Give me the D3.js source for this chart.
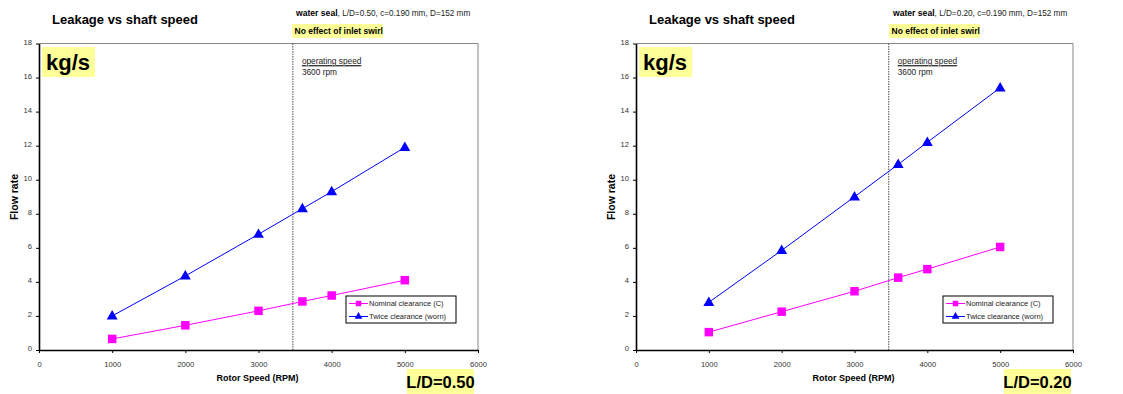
<!DOCTYPE html>
<html>
<head>
<meta charset="utf-8">
<script src="https://d3js.org/d3.v7.min.js"></script>
<style>
  body { margin: 0; background: #fff; }
  svg text { font-family: Arial, "Liberation Sans", sans-serif; }
</style>
</head>
<body>
<div id="chart"></div>
<script>
// data
var speeds = [1000, 2000, 3000, 3600, 4000, 5000];
var nominalLD050 = [0.65, 1.45, 2.3, 2.85, 3.2, 4.1];
var twiceLD050 = [2.0, 4.35, 6.8, 8.3, 9.3, 11.9];
var nominalLD020 = [1.05, 2.25, 3.45, 4.25, 4.75, 6.05];
var twiceLD020 = [2.8, 5.85, 9.0, 10.9, 12.2, 15.4];
var xTicks = [0, 1000, 2000, 3000, 4000, 5000, 6000];
var yTicks = [0, 2, 4, 6, 8, 10, 12, 14, 16, 18];
var operatingLine = 3470;
var seriesNames = ["Nominal clearance (C)", "Twice clearance (worn)"];
var panelLabels = ["L/D=0.50", "L/D=0.20"];
var subtitles = [", L/D=0.50, c=0.190 mm, D=152 mm", ", L/D=0.20, c=0.190 mm, D=152 mm"];

var width = 1123, height = 394;

var svg = d3.select("#chart").append("svg")
    .attr("width", width)
    .attr("height", height);

var panels = [
  {ox: 0, nominal: nominalLD050, twice: twiceLD050, label: panelLabels[0], sub: subtitles[0], w: 439},
  {ox: 597, nominal: nominalLD020, twice: twiceLD020, label: panelLabels[1], sub: subtitles[1], w: 437}
];

panels.forEach(drawPanel);

function drawPanel(p) {
  var g = svg.append("g").attr("transform", "translate(" + p.ox + ",0)");
  var left = 39, top = 43.5, bottom = 350;

  var x = d3.scaleLinear().domain([0, 6000]).range([left, left + p.w]);
  var y = d3.scaleLinear().domain([0, 18]).range([bottom, top]);

  // plot frame (top and right grey)
  g.append("path")
    .attr("d", "M" + left + "," + top + "H" + x(6000) + "V" + bottom)
    .attr("fill", "none")
    .attr("stroke", "#888")
    .attr("stroke-width", 1);

  // axes
  var xAxis = g.append("g")
    .attr("transform", "translate(0," + bottom + ")")
    .call(d3.axisBottom(x).tickValues(xTicks).tickFormat(d3.format("d")).tickSize(3).tickSizeOuter(0));
  var yAxis = g.append("g")
    .attr("transform", "translate(" + left + ",0)")
    .call(d3.axisLeft(y).tickValues(yTicks).tickFormat(d3.format("d")).tickSize(3).tickSizeOuter(0));

  [xAxis, yAxis].forEach(function(a) {
    a.select(".domain").attr("stroke", "#000").attr("stroke-width", 1.6);
    a.selectAll(".tick line").attr("stroke", "#000");
    a.selectAll(".tick text")
      .attr("font-size", "7.6px")
      .attr("fill", "#333")
      .attr("font-family", "Arial, 'Liberation Sans', sans-serif");
  });
  xAxis.selectAll(".tick text").attr("dy", "1.4em");
  yAxis.selectAll(".tick text").attr("dx", "-1px").attr("dy", "0.1em");

  // operating speed line
  g.append("line")
    .attr("x1", x(operatingLine)).attr("x2", x(operatingLine))
    .attr("y1", top).attr("y2", bottom)
    .attr("stroke", "#222")
    .attr("stroke-width", 0.8)
    .attr("stroke-dasharray", "1.5,1");

  g.append("text")
    .attr("x", x(operatingLine) + 9).attr("y", 64)
    .attr("font-size", "8.3px").attr("fill", "#222")
    .attr("text-decoration", "underline")
    .text("operating speed");
  g.append("line")
    .attr("x1", x(operatingLine) + 9).attr("x2", x(operatingLine) + 68)
    .attr("y1", 66).attr("y2", 66)
    .attr("stroke", "#222").attr("stroke-width", 0.7);
  g.append("text")
    .attr("x", x(operatingLine) + 9).attr("y", 75)
    .attr("font-size", "8.3px").attr("fill", "#222")
    .text("3600 rpm");

  // lines
  var line = d3.line()
    .x(function(d, i) { return x(speeds[i]); })
    .y(function(d) { return y(d); });

  g.append("path").datum(p.nominal)
    .attr("d", line).attr("fill", "none")
    .attr("stroke", "#ff00ff").attr("stroke-width", 1);
  g.append("path").datum(p.twice)
    .attr("d", line).attr("fill", "none")
    .attr("stroke", "#0000ff").attr("stroke-width", 1);

  var square = d3.symbol().type(d3.symbolSquare).size(72);
  var tri = d3.symbol().type(d3.symbolTriangle).size(52);

  g.selectAll(".sq").data(p.nominal).enter().append("path")
    .attr("class", "sq")
    .attr("d", square)
    .attr("transform", function(d, i) { return "translate(" + x(speeds[i]) + "," + y(d) + ")"; })
    .attr("fill", "#ff00ff");
  g.selectAll(".tri").data(p.twice).enter().append("path")
    .attr("class", "tri")
    .attr("d", tri)
    .attr("transform", function(d, i) { return "translate(" + x(speeds[i]) + "," + (y(d) + 0.5) + ")"; })
    .attr("fill", "#0000ff");

  // legend
  var lx = left + 307, ly = 296;
  g.append("rect")
    .attr("x", lx).attr("y", ly).attr("width", 110).attr("height", 27)
    .attr("fill", "#fff").attr("stroke", "#000").attr("stroke-width", 1);
  var colors = ["#ff00ff", "#0000ff"];
  var syms = [d3.symbol().type(d3.symbolSquare).size(30), d3.symbol().type(d3.symbolTriangle).size(26)];
  seriesNames.forEach(function(name, i) {
    var yy = ly + 7.5 + i * 13;
    g.append("line")
      .attr("x1", lx + 3).attr("x2", lx + 22)
      .attr("y1", yy).attr("y2", yy)
      .attr("stroke", colors[i]).attr("stroke-width", 1);
    g.append("path").attr("d", syms[i])
      .attr("transform", "translate(" + (lx + 12.5) + "," + yy + ")")
      .attr("fill", colors[i]);
    g.append("text")
      .attr("x", lx + 23).attr("y", yy + 2.8)
      .attr("font-size", "7.5px").attr("fill", "#222")
      .text(name);
  });

  // title
  g.append("text")
    .attr("x", 52).attr("y", 24)
    .attr("font-size", "13px").attr("font-weight", "bold")
    .text("Leakage vs shaft speed");

  var sub = g.append("text")
    .attr("x", 296).attr("y", 16)
    .attr("font-size", "8.2px").attr("fill", "#222");
  sub.append("tspan").attr("font-weight", "bold").attr("font-size", "8.6px").attr("fill", "#000").text("water seal");
  sub.append("tspan").text(p.sub);

  // yellow notes
  g.append("rect").attr("x", 292).attr("y", 24).attr("width", 91).attr("height", 14).attr("fill", "#ffff99");
  g.append("text")
    .attr("x", 294.5).attr("y", 34)
    .attr("font-size", "8.5px").attr("font-weight", "bold")
    .text("No effect of inlet swirl");

  g.append("rect").attr("x", 42).attr("y", 47).attr("width", 53).attr("height", 30).attr("fill", "#ffff99");
  g.append("text")
    .attr("x", 46).attr("y", 70)
    .attr("font-size", "22px").attr("font-weight", "bold")
    .text("kg/s");

  g.append("rect").attr("x", 407).attr("y", 369).attr("width", 67).attr("height", 25).attr("fill", "#ffff99");
  g.append("text")
    .attr("x", 440.5).attr("y", 388)
    .attr("text-anchor", "middle")
    .attr("font-size", "16.5px").attr("font-weight", "bold")
    .text(p.label);

  // axis titles
  g.append("text")
    .attr("x", left + p.w / 2 - 1).attr("y", 381)
    .attr("text-anchor", "middle")
    .attr("font-size", "9px").attr("font-weight", "bold")
    .text("Rotor Speed (RPM)");
  g.append("text")
    .attr("transform", "translate(18,197) rotate(-90)")
    .attr("text-anchor", "middle")
    .attr("font-size", "10.5px").attr("font-weight", "bold")
    .text("Flow rate");
}
</script>
</body>
</html>
